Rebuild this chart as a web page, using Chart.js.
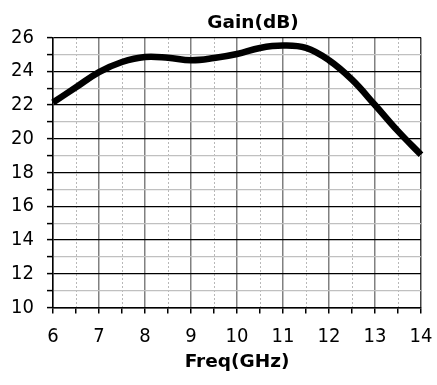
<!DOCTYPE html>
<html>
<head>
<meta charset="utf-8">
<script src="https://cdn.jsdelivr.net/npm/chart.js@4/dist/chart.umd.min.js"></script>
<style>
  html, body { margin: 0; padding: 0; background: #fff; }
  #wrap { width: 437px; height: 385px; }
</style>
</head>
<body>
<div id="wrap"><canvas id="c" width="437" height="385"></canvas></div>
<script>
const chartTitle = 'Gain(dB)';
const xTitle = 'Freq(GHz)';
const freq = [6, 6.5, 7, 7.5, 8, 8.5, 9, 9.5, 10, 10.5, 11, 11.5, 12, 12.5, 13, 13.5, 14];
const gain = [22.15, 23.05, 23.95, 24.55, 24.85, 24.8, 24.65, 24.78, 25.02, 25.38, 25.52, 25.38, 24.65, 23.5, 22.0, 20.45, 19.05];
const xMin = 6, xMax = 14;
const yMin = 10, yMax = 26;
const xMinorTicks = [6.5, 7.5, 8.5, 9.5, 10.5, 11.5, 12.5, 13.5];

const tickFont = { family: "'DejaVu Sans Condensed', 'DejaVu Sans', sans-serif", size: 20 };
const titleFont = { family: "'DejaVu Sans', sans-serif", size: 18.5, weight: 'bold' };

const titlePlugin = {
  id: 'topTitle',
  afterDraw(chart) {
    const ctx = chart.ctx;
    ctx.save();
    ctx.font = 'bold 18.5px "DejaVu Sans", sans-serif';
    ctx.fillStyle = '#000';
    ctx.textAlign = 'center';
    ctx.textBaseline = 'alphabetic';
    ctx.fillText(chartTitle, 253, 28);
    ctx.restore();
  }
};

new Chart(document.getElementById('c'), {
  type: 'line',
  data: {
    datasets: [{
      data: freq.map((f, i) => ({ x: f, y: gain[i] })),
      borderColor: '#000',
      borderWidth: 6.5,
      pointRadius: 0,
      tension: 0.4,
      fill: false,
      clip: false
    }]
  },
  options: {
    responsive: false,
    animation: false,
    layout: { padding: { left: 0, right: 16, top: 37.5, bottom: 0 } },
    plugins: { legend: { display: false }, title: { display: false }, tooltip: { enabled: false } },
    scales: {
      x: {
        type: 'linear',
        position: 'bottom',
        min: xMin, max: xMax,
        afterFit(s) { s.height = 77.5; s.paddingLeft = 0; s.paddingRight = 0; },
        ticks: {
          stepSize: 0.5,
          font: tickFont,
          color: '#000',
          padding: 11,
          maxRotation: 0,
          autoSkip: false,
          callback: v => (Number.isInteger(v) ? String(v) : '')
        },
        grid: {
          color: ctx => {
            const v = ctx.tick && ctx.tick.value;
            if (v === xMax) return '#404040';
            return Number.isInteger(v) ? '#808080' : 'rgba(0,0,0,0)';
          },
          lineWidth: 1.5,
          tickColor: '#000',
          tickLength: 6,
          tickWidth: 1.5
        },
        border: { display: true, color: '#000', width: 1.5 },
        title: {
          display: true,
          text: xTitle,
          font: titleFont,
          color: '#000',
          padding: { top: 0, bottom: 12 }
        }
      },
      x2: {
        type: 'linear',
        position: 'top',
        min: xMin, max: xMax,
        afterBuildTicks(s) { s.ticks = xMinorTicks.map(v => ({ value: v })); },
        afterFit(s) { s.paddingLeft = 0; s.paddingRight = 0; },
        ticks: { display: false },
        grid: { color: '#b8b8b8', lineWidth: 1, drawTicks: false },
        border: { display: false, dash: [2, 2] }
      },
      y: {
        type: 'linear',
        min: yMin, max: yMax,
        afterFit(s) { s.width = 53; s.paddingTop = 0; s.paddingBottom = 0; },
        ticks: {
          stepSize: 1,
          font: tickFont,
          color: '#000',
          padding: 13,
          autoSkip: false,
          callback: v => (v % 2 === 0 ? String(v) : '')
        },
        grid: {
          color: ctx => {
            const v = ctx.tick && ctx.tick.value;
            return v % 2 === 0 ? '#000' : '#c0c0c0';
          },
          lineWidth: 1.2,
          tickColor: '#000',
          tickLength: 6,
          tickWidth: 1.5
        },
        border: { display: true, color: '#000', width: 1.5 }
      }
    }
  },
  plugins: [titlePlugin]
});
</script>
</body>
</html>
